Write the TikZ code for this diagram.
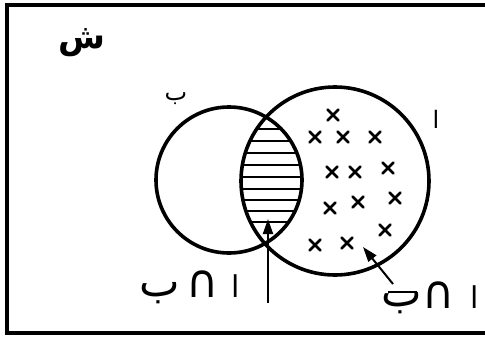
\documentclass[tikz,border=0pt]{standalone}
\usepackage{fontspec}
\TeXXeTstate=1
\newfontfamily\arabicfont[Script=Arabic]{DejaVu Sans}
\newfontfamily\symfont{DejaVu Sans}
\usetikzlibrary{arrows.meta}
\begin{document}
\begin{tikzpicture}[x=1pt,y=-1pt,
  setline/.style={line width=3.6pt},
  hatch/.style={line width=2.2pt},
  xmark/.style={line width=2.8pt,line cap=round},
  lbl/.style={inner sep=0pt,anchor=base,font=\arabicfont\fontsize{43}{43}\selectfont},
  alif/.style={inner sep=0pt,anchor=base,font=\arabicfont\fontsize{30}{30}\selectfont},
  capsym/.style={inner sep=0pt,anchor=base,font=\symfont\fontsize{44}{44}\selectfont,yscale=1.05},
  small/.style={inner sep=0pt,anchor=base,font=\arabicfont\fontsize{24}{24}\selectfont},
  ptr/.style={line width=2pt,-{Triangle[length=15pt,width=10pt]}}]
\useasboundingbox (0,0) rectangle (485,340);
\clip (0,0) rectangle (485,340);
% frame
\draw[line width=3.4pt] (7,5) rectangle (495,333);
% circles
\coordinate (cB) at (229,180);
\coordinate (cA) at (335,181);
% hatching of intersection
\begin{scope}
  \clip (cB) circle (73);
  \clip (cA) circle (94);
  \foreach \yy in {129,141,153,165,177,189,200,211,222}
    \draw[hatch] (230,\yy) -- (310,\yy);
\end{scope}
\node[setline,draw,circle,minimum size=146pt,inner sep=0pt] (B) at (cB) {};
\node[setline,draw,circle,minimum size=188pt,inner sep=0pt] (A) at (cA) {};
% set labels
\node[small] (lB) at (176,100) {\beginR ب\endR};
\node[small] (lA) at (436,128) {\beginR ا\endR};
\node[inner sep=0pt,anchor=base,font=\arabicfont\bfseries\fontsize{34}{34}\selectfont] (U) at (82,48) {\beginR ش\endR};
% crosses
\foreach \px/\py in {333/115,315/137,343/137,375/137,332/172,355/172,388/168,330/208,358/202,395/198,385/230,315/245,347/243}
  \draw[xmark] (\px-5.5,\py-5.5) -- (\px+5.5,\py+5.5) (\px-5.5,\py+5.5) -- (\px+5.5,\py-5.5);
% bottom labels
\node[lbl] (b1) at (160,296) {\beginR ب\endR};
\node[capsym] (c1) at (203,297) {∩};
\node[alif] (a1) at (236,297) {\beginR ا\endR};
\node[lbl] (b2) at (402,306) {\beginR ب\endR};
\coordinate (bar1) at (388,292);
\coordinate (bar2) at (417,292);
\draw[line width=2.4pt] (bar1) -- (bar2);
\node[capsym] (c2) at (439,308) {∩};
\node[alif] (a2) at (475,308) {\beginR ا\endR};
% pointers
\coordinate (p1s) at (268,303);
\coordinate (p1e) at (268,219);
\draw[ptr] (p1s) -- (p1e);
\coordinate (p2s) at (393,284);
\coordinate (p2e) at (363,247);
\draw[ptr] (p2s) -- (p2e);
\end{tikzpicture}
\end{document}
